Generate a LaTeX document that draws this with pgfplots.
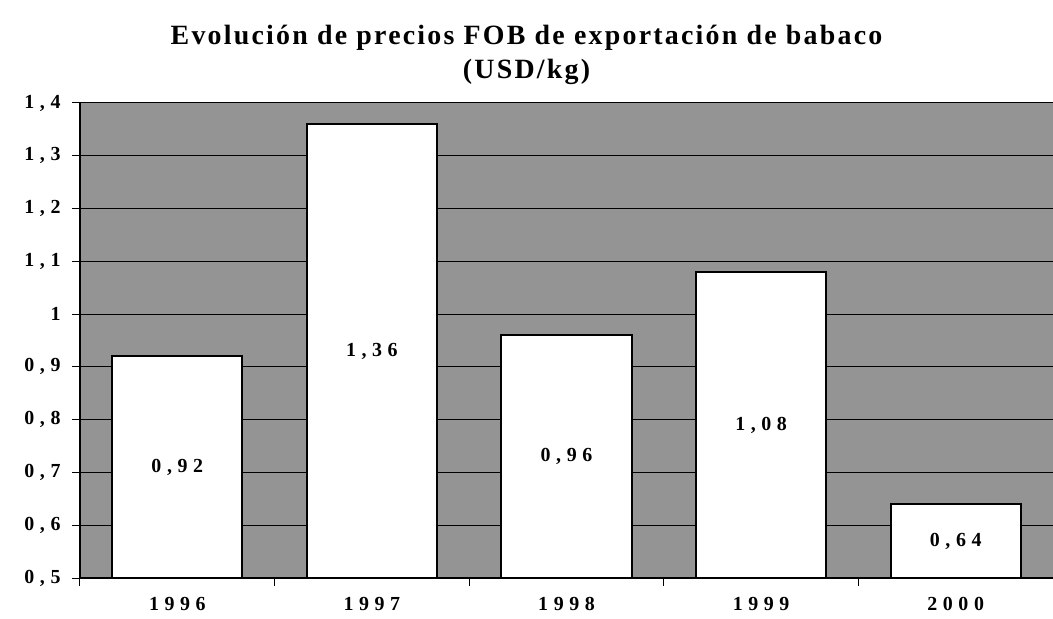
\documentclass[border=0pt]{standalone}
\usepackage{fontspec}
\setmainfont{Liberation Serif}
\newfontfamily\spaced[LetterSpace=28]{Liberation Serif}
\newfontfamily\tspaced[LetterSpace=8]{Liberation Serif}
\usepackage{pgfplots}
\pgfplotsset{compat=1.18}
\begin{document}
\begin{tikzpicture}
\begin{axis}[
  scale only axis, width=973bp, height=475bp,
  xmin=-0.5, xmax=4.5, ymin=0.5, ymax=1.4,
  axis lines=left, axis line style={-, line width=1.5bp},
  axis background/.style={fill=black!42},
  ymajorgrids, major grid style={black, line width=1bp},
  ytick={0.5,0.6,...,1.4},
  tick align=outside, major tick length=8bp,
  tick style={black, line width=1bp},
  xtick={-0.5,0.5,1.5,2.5,3.5,4.5}, xticklabels={},
  extra x ticks={0,1,2,3,4},
  extra x tick labels={1996,1997,1998,1999,2000},
  extra x tick style={major tick length=0pt, grid=none},
  /pgf/number format/assume math mode=true,
  /pgf/number format/.cd, fixed, precision=1, use comma, /pgfplots/.cd,
  yticklabel style={font=\spaced\bfseries\fontsize{20}{20}\selectfont, xshift=-8bp},
  xticklabel style={font=\spaced\bfseries\fontsize{20}{20}\selectfont, yshift=-16bp},
  title={Evolución de precios FOB de exportación de babaco\\(USD/kg)},
  title style={font=\tspaced\bfseries\fontsize{28}{34}\selectfont, align=center, anchor=south, at={(0.5,1)}, yshift=9bp, xshift=-40bp},
  clip=false,
]
\addplot[ybar, bar width=0.67, fill=white, draw=black, line width=2bp, bar shift=0pt] coordinates {
  (0,0.92) (1,1.36) (2,0.96) (3,1.08) (4,0.64)
};
\addplot[draw=none, nodes near coords, point meta=explicit symbolic,
  nodes near coords style={font=\spaced\bfseries\fontsize{20}{20}\selectfont, anchor=center}]
  table[meta=l] {
x y l
0 0.71 0,92
1 0.93 1,36
2 0.73 0,96
3 0.79 1,08
4 0.57 0,64
};
\coordinate (ll) at (rel axis cs:0,0);
\coordinate (ur) at (rel axis cs:1,1);
\end{axis}
\pgfresetboundingbox
\path ([shift={(-80bp,-41bp)}]ll) rectangle ([shift={(0bp,103bp)}]ur);
\end{tikzpicture}
\end{document}
